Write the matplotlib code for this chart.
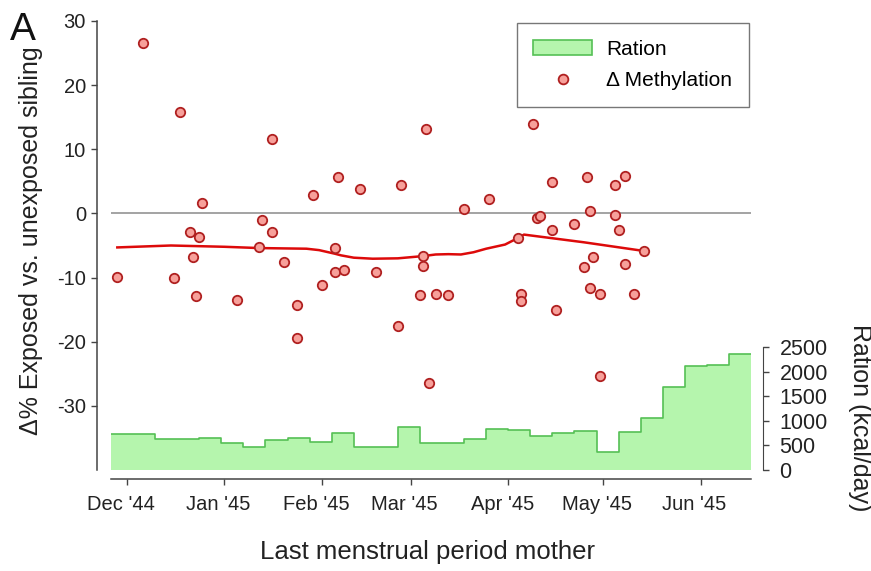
import numpy as np
import pandas as pd
import matplotlib
matplotlib.use("Agg")
from matplotlib import pyplot as plt
from matplotlib.patches import Patch
from matplotlib.lines import Line2D
from matplotlib.transforms import ScaledTranslation
import matplotlib.dates as mdates

plt.rcParams['font.family'] = ['Liberation Sans', 'DejaVu Sans']
plt.rcParams['axes.unicode_minus'] = False

# methylation difference per sibling pair, by mother's last menstrual period
lmp_dates = [
    "1944-11-28", "1944-12-06", "1944-12-16", "1944-12-18", "1944-12-21",
    "1944-12-22", "1944-12-23", "1944-12-24", "1944-12-25", "1945-01-05",
    "1945-01-12", "1945-01-13", "1945-01-16", "1945-01-16", "1945-01-20",
    "1945-01-24", "1945-01-24", "1945-01-29", "1945-02-01", "1945-02-05",
    "1945-02-05", "1945-02-06", "1945-02-08", "1945-02-13", "1945-02-18",
    "1945-02-25", "1945-02-26", "1945-03-04", "1945-03-05", "1945-03-05",
    "1945-03-06", "1945-03-07", "1945-03-09", "1945-03-13", "1945-03-18",
    "1945-03-26", "1945-04-04", "1945-04-05", "1945-04-05", "1945-04-09",
    "1945-04-10", "1945-04-11", "1945-04-15", "1945-04-15", "1945-04-16",
    "1945-04-22", "1945-04-25", "1945-04-26", "1945-04-27", "1945-04-27",
    "1945-04-28", "1945-04-30", "1945-04-30", "1945-05-05", "1945-05-05",
    "1945-05-06", "1945-05-08", "1945-05-08", "1945-05-11", "1945-05-14",
]
delta_meth = [
    -9.9, 26.6, -10.1, 15.8, -2.9,
    -6.8, -12.9, -3.7, 1.6, -13.5,
    -5.3, -1.0, 11.6, -2.9, -7.6,
    -14.3, -19.4, 2.9, -11.1, -5.4,
    -9.1, 5.7, -8.8, 3.85, -9.1,
    -17.6, 4.4, -12.7, -6.6, -8.2,
    13.2, -26.5, -12.6, -12.7, 0.65,
    2.2, -3.9, -12.5, -13.7, 14.0,
    -0.7, -0.4, 4.95, -2.6, -15.1,
    -1.7, -8.3, 5.7, 0.35, -11.6,
    -6.75, -12.6, -25.4, 4.5, -0.3,
    -2.6, 5.8, -7.9, -12.5, -5.85,
]

# smoothed trend through the pairs
trend_dates = [
    "1944-11-28", "1944-12-15", "1945-01-01", "1945-01-12", "1945-01-27",
    "1945-01-31", "1945-02-05", "1945-02-07", "1945-02-11", "1945-02-17",
    "1945-02-25", "1945-03-05", "1945-03-09", "1945-03-13", "1945-03-17",
    "1945-03-21", "1945-03-25", "1945-03-31", "1945-04-04", "1945-04-06",
    "1945-04-25", "1945-05-14",
]
trend_vals = [
    -5.3, -5.0, -5.2, -5.4, -5.5,
    -5.72, -6.28, -6.54, -6.9, -7.06,
    -7.0, -6.65, -6.4, -6.35, -6.4,
    -6.05, -5.5, -4.85, -3.85, -3.3,
    -4.5, -5.85,
]

# weekly official ration (kcal/day), weeks starting on these Sundays
week_start = "1944-11-26"
ration_kcal = [
    732, 732, 624, 624, 644, 542, 474, 610, 644, 576,
    745, 474, 474, 867, 542, 542, 630, 827, 813, 697,
    745, 799, 360, 766, 1051, 1681, 2114, 2130, 2352,
]

x_pts = pd.to_datetime(lmp_dates)
x_trend = pd.to_datetime(trend_dates)
week_edges = pd.date_range(week_start, periods=len(ration_kcal) + 1, freq="7D")
ration_ext = ration_kcal + [ration_kcal[-1]]

fig = plt.figure(figsize=(8.71, 5.71), dpi=100)
ax = fig.add_axes([111 / 871, 101 / 571, 640 / 871, 449 / 571])
ax2 = ax.twinx()

fill_col = '#b5f5ad'
edge_col = '#55c055'
ax2.fill_between(week_edges, 0, ration_ext, step='post', color=fill_col, lw=0)
ax2.step(week_edges, ration_ext, where='post', color=edge_col, lw=1.2)
ax2.set_ylim(0, 2500 * 449 / 123)
ax2.set_yticks([0, 500, 1000, 1500, 2000, 2500])
ax2.spines['right'].set_bounds(0, 2500)
ax2.spines['right'].set_position(('outward', 8.6))
for s in ['top', 'left', 'bottom']:
    ax2.spines[s].set_visible(False)
ax2.spines['right'].set_color('#444444')
ax2.tick_params(axis='y', direction='out', length=4.5, width=1, colors='#444444',
                labelcolor='#222222', labelsize=15.5, pad=7.5)
fig.text(860 / 871, 1 - 418 / 571, 'Ration (kcal/day)', rotation=270,
         fontsize=18, color='#222222', ha='center', va='center')

# methylation axis sits on top of the ration fill
ax.set_zorder(ax2.get_zorder() + 1)
ax.patch.set_visible(False)

ax.axhline(0, color='#8a8a8a', lw=1.1, zorder=1)
ax.plot(x_trend, trend_vals, color='#dd0a0a', lw=1.8, zorder=2)
ax.scatter(x_pts, delta_meth, s=46, facecolor='#f7a09a', edgecolor='#b02020',
           linewidth=1.3, zorder=3)

ax.set_xlim(week_edges[0], week_edges[-1])
ax.set_ylim(-40, 30)
ax.set_yticks([-30, -20, -10, 0, 10, 20, 30])

months = pd.date_range("1944-12-01", "1945-06-01", freq="MS")
ax.set_xticks(months)
ax.xaxis.set_major_formatter(mdates.DateFormatter("%b '%y"))

ax.spines['top'].set_visible(False)
ax.spines['right'].set_visible(False)
ax.spines['left'].set_position(('outward', 10))
ax.spines['bottom'].set_position(('outward', 6.5))
for s in ['left', 'bottom']:
    ax.spines[s].set_color('#444444')
    ax.spines[s].set_linewidth(1.1)
ax.tick_params(direction='out', length=4.5, width=1, colors='#444444',
               labelcolor='#222222', labelsize=14.5)
ax.tick_params(axis='x', pad=7)

# month labels sit a little left of their ticks
shift = ScaledTranslation(-6 / 100, 0, fig.dpi_scale_trans)
for lab in ax.get_xticklabels():
    lab.set_transform(lab.get_transform() + shift)

ax.set_ylabel('\u0394% Exposed vs. unexposed sibling', fontsize=18,
              color='#222222')
ax.yaxis.set_label_coords(-0.106, 0.51)
ax.set_xlabel('Last menstrual period mother', fontsize=18.5, color='#222222')
ax.xaxis.set_label_coords(0.495, -0.155)

handles = [
    Patch(facecolor=fill_col, edgecolor=edge_col, lw=1.2),
    Line2D([], [], ls='none', marker='o', ms=7, mfc='#f7a09a', mec='#b02020',
           mew=1.3),
]
leg = ax.legend(handles, ['Ration', '\u0394 Methylation'], loc='upper right',
                bbox_to_anchor=(1.0, 1.0), borderaxespad=0.1, fontsize=15,
                frameon=True, fancybox=False, borderpad=0.8, labelspacing=0.6,
                handlelength=2.8, handletextpad=0.7)
leg.get_frame().set_edgecolor('#555555')
leg.get_frame().set_linewidth(1.0)

fig.text(0.011, 0.93, 'A', fontsize=28, color='#111111')

fig.savefig('out.png', dpi=100)
